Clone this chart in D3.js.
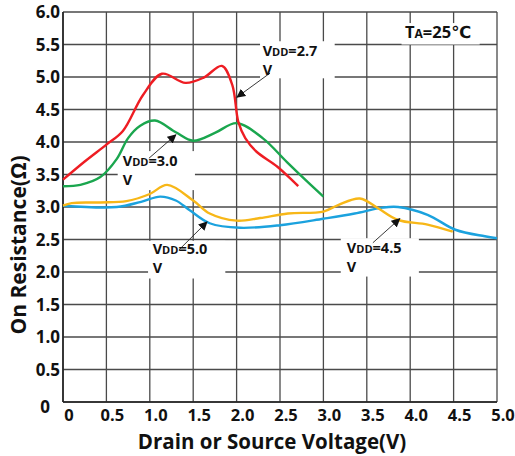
<!DOCTYPE html>
<html><head><meta charset="utf-8">
<script src="https://cdn.jsdelivr.net/npm/d3@7"></script>
<style>
html,body{margin:0;padding:0;background:#fff;}
svg{display:block;font-family:"Open Sans","DejaVu Sans",sans-serif;}
</style></head>
<body><svg id="c" width="515" height="456"></svg>
<script>
// ---- data ----
const xTicks = [0, 0.5, 1.0, 1.5, 2.0, 2.5, 3.0, 3.5, 4.0, 4.5, 5.0];
const xTickLabels = ["0", "0.5", "1.0", "1.5", "2.0", "2.5", "3.0", "3.5", "4.0", "4.5", "5.0"];
const yTicks = [0, 0.5, 1.0, 1.5, 2.0, 2.5, 3.0, 3.5, 4.0, 4.5, 5.0, 5.5, 6.0];
const yTickLabels = ["0", "0.5", "1.0", "1.5", "2.0", "2.5", "3.0", "3.5", "4.0", "4.5", "5.0", "5.5", "6.0"];

const vdd27V = [0, 0.25, 0.5, 0.69, 0.92, 1.14, 1.41, 1.62, 1.83, 1.95, 2.02, 2.1, 2.23, 2.47, 2.71];
const vdd27R = [3.42, 3.7, 3.96, 4.17, 4.72, 5.05, 4.91, 4.99, 5.17, 4.88, 4.31, 4.06, 3.85, 3.62, 3.32];

const vdd30V = [0, 0.2, 0.43, 0.62, 0.75, 0.89, 1.06, 1.3, 1.5, 1.75, 2.0, 2.3, 2.58, 2.83, 3.0];
const vdd30R = [3.32, 3.34, 3.46, 3.74, 4.06, 4.25, 4.33, 4.15, 4.02, 4.14, 4.29, 4.06, 3.69, 3.37, 3.16];

const vdd45V = [0, 0.1, 0.43, 0.73, 1.0, 1.2, 1.5, 1.69, 2.0, 2.27, 2.59, 3.0, 3.17, 3.42, 3.63, 3.86, 4.2, 4.49];
const vdd45R = [3.02, 3.06, 3.07, 3.09, 3.2, 3.34, 3.1, 2.9, 2.79, 2.83, 2.9, 2.93, 3.03, 3.13, 2.98, 2.8, 2.73, 2.62];

const vdd50V = [0, 0.62, 0.9, 1.12, 1.3, 1.46, 1.69, 2.04, 2.5, 3.0, 3.36, 3.68, 3.86, 4.2, 4.52, 4.86, 5.0];
const vdd50R = [3.02, 3.0, 3.08, 3.16, 3.1, 2.95, 2.75, 2.68, 2.72, 2.82, 2.9, 2.99, 3.0, 2.88, 2.65, 2.55, 2.52];

const seriesNames = ["VDD=2.7V", "VDD=3.0V", "VDD=4.5V", "VDD=5.0V"];
const seriesColors = ["#ee1d23", "#1aa64e", "#f7b718", "#1ba2de"];

// ---- layout ----
const svg = d3.select("#c");
const x = d3.scaleLinear().domain([0, 5]).range([63, 497]);
const y = d3.scaleLinear().domain([0, 6]).range([402, 12]);

// grid
const g = svg.append("g");
g.selectAll(".vg").data(xTicks).join("line")
  .attr("x1", d => x(d)).attr("x2", d => x(d))
  .attr("y1", y(0)).attr("y2", y(6))
  .attr("stroke", "#4a4a4a").attr("stroke-width", 1.3);
g.selectAll(".hg").data(yTicks).join("line")
  .attr("x1", x(0)).attr("x2", x(5))
  .attr("y1", d => y(d)).attr("y2", d => y(d))
  .attr("stroke", "#4a4a4a").attr("stroke-width", 1.3);
// axes lines
svg.append("line").attr("x1", x(0)).attr("x2", x(0)).attr("y1", y(0)).attr("y2", y(6)).attr("stroke", "#222").attr("stroke-width", 1.6);
svg.append("line").attr("x1", x(0)).attr("x2", x(5)).attr("y1", y(0)).attr("y2", y(0)).attr("stroke", "#222").attr("stroke-width", 1.6);

// white label boxes (drawn over grid, under curves)
const boxes = [
  {v0: 2.27, v1: 3.13, r0: 5.55, r1: 4.98},
  {v0: 0.63, v1: 1.52, r0: 3.86, r1: 3.26},
  {v0: 0.98, v1: 1.87, r0: 2.48, r1: 1.9},
  {v0: 3.2, v1: 4.1, r0: 2.52, r1: 1.93},
  {v0: 3.9, v1: 4.8, r0: 5.83, r1: 5.5}
];
svg.selectAll(".box").data(boxes).join("rect")
  .attr("x", d => x(d.v0)).attr("y", d => y(d.r0))
  .attr("width", d => x(d.v1) - x(d.v0)).attr("height", d => y(d.r1) - y(d.r0))
  .attr("fill", "#fff");

// curves
const line = d3.line().x(d => x(d[0])).y(d => y(d[1])).curve(d3.curveCatmullRom.alpha(0.5));
const series = [
  d3.zip(vdd27V, vdd27R), d3.zip(vdd30V, vdd30R),
  d3.zip(vdd45V, vdd45R), d3.zip(vdd50V, vdd50R)
];
[3, 2, 1, 0].forEach(i => {
  svg.append("path").attr("d", line(series[i])).attr("fill", "none")
    .attr("stroke", seriesColors[i]).attr("stroke-width", 2.4)
    .attr("stroke-linejoin", "round").attr("stroke-linecap", "butt");
});

// tick labels
svg.selectAll(".yl").data(yTicks).join("text")
  .attr("x", d => d === 0 ? 50 : 60).attr("y", d => d === 0 ? y(d) + 11 : y(d) + 6)
  .attr("text-anchor", "end").attr("font-size", 17).attr("font-weight", "bold").attr("fill", "#111")
  .text((d, i) => yTickLabels[i]);
svg.selectAll(".xl").data(xTicks).join("text")
  .attr("x", d => x(d) + 6).attr("y", 421)
  .attr("text-anchor", "middle").attr("font-size", 16.5).attr("font-weight", "bold").attr("fill", "#111")
  .text((d, i) => xTickLabels[i]);

// axis titles
svg.append("text").attr("x", 272).attr("y", 449).attr("text-anchor", "middle")
  .attr("font-size", 20.5).attr("font-weight", "bold").attr("fill", "#111")
  .text("Drain or Source Voltage(V)");
svg.append("text").attr("transform", "translate(26,245) rotate(-90)").attr("text-anchor", "middle")
  .attr("font-size", 21).attr("font-weight", "bold").attr("fill", "#111")
  .text("On Resistance(Ω)");

// arrow marker
svg.append("defs").append("marker").attr("id", "ah")
  .attr("viewBox", "0 0 10 10").attr("refX", 9).attr("refY", 5)
  .attr("markerWidth", 9).attr("markerHeight", 9).attr("markerUnits", "userSpaceOnUse")
  .attr("orient", "auto")
  .append("path").attr("d", "M0,0 L10,5 L0,10 z").attr("fill", "#111");

// annotations: text anchor (v, r of line 1), arrow from -> to
const notes = [
  {val: "2.7", tv: 2.30, tr1: 5.33, a0: [2.385, 5.06], a1: [2.005, 4.69]},
  {val: "3.0", tv: 0.688, tr1: 3.63, a0: [0.99, 3.75], a1: [1.30, 4.11]},
  {val: "5.0", tv: 1.033, tr1: 2.27, a0: [1.336, 2.34], a1: [1.659, 2.77]},
  {val: "4.5", tv: 3.27, tr1: 2.30, a0: [3.57, 2.45], a1: [3.88, 2.82]}
];
const noteGap = 19; // px between the two lines of a label
notes.forEach(n => {
  svg.append("line")
    .attr("x1", x(n.a0[0])).attr("y1", y(n.a0[1]))
    .attr("x2", x(n.a1[0])).attr("y2", y(n.a1[1]))
    .attr("stroke", "#222").attr("stroke-width", 0.9).attr("marker-end", "url(#ah)");
  const t = svg.append("text").attr("x", x(n.tv)).attr("y", y(n.tr1))
    .attr("font-size", 14.5).attr("font-weight", "bold").attr("fill", "#111");
  t.append("tspan").text("V");
  t.append("tspan").attr("font-size", 11).text("DD");
  t.append("tspan").text("=" + n.val);
  svg.append("text").attr("x", x(n.tv)).attr("y", y(n.tr1) + noteGap)
    .attr("font-size", 14.5).attr("font-weight", "bold").attr("fill", "#111").text("V");
});

// temperature label
const tt = svg.append("text").attr("x", x(3.94)).attr("y", y(5.6))
  .attr("font-size", 16.5).attr("font-weight", "bold").attr("fill", "#111");
tt.append("tspan").text("T");
tt.append("tspan").attr("font-size", 12).text("A");
tt.append("tspan").text("=25℃");
</script>
</body></html>
